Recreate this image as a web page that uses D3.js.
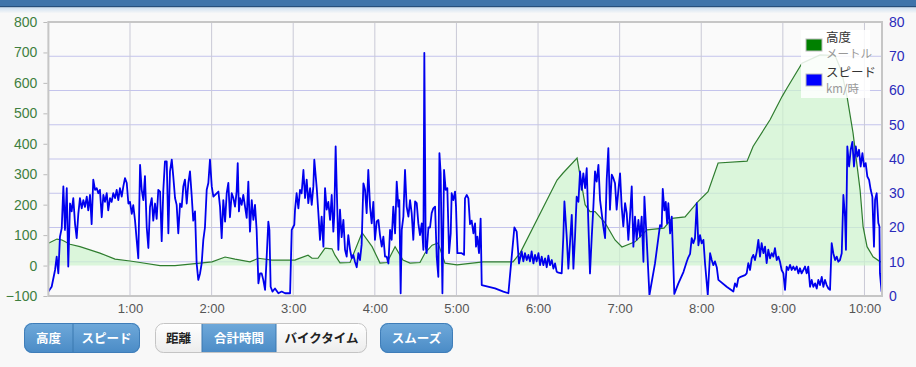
<!DOCTYPE html>
<html>
<head>
<meta charset="utf-8">
<script src="https://cdn.jsdelivr.net/npm/d3@7"></script>
<style>
  body { margin: 0; background: #f8f8f8; }
  svg { display: block; font-family: "Liberation Sans", Arial, sans-serif; }
  .jp { font-family: "Noto Sans CJK JP", sans-serif; }
</style>
</head>
<body>
<script>
// elapsed minutes -> elevation (m)
var elevation = [
  [0, 73], [6.3, 87], [10, 84], [15.9, 70], [23.2, 62], [37.9, 41], [49, 21], [60, 15],
  [67.4, 10], [82.1, 0], [93.1, 0], [111.5, 8], [120.3, 12], [129.9, 28], [137.2, 21],
  [148.2, 12], [154.4, 24], [164.4, 18], [181.3, 18], [183.5, 22], [190.9, 34], [193.8, 24],
  [198.2, 24], [203.4, 57], [208.5, 55], [210.7, 34], [214.4, 9], [221.8, 10], [230.6, 108],
  [238, 62], [243.8, 8], [249, 10], [254.9, 62], [260.7, 18], [265.9, 8], [273.2, 10],
  [276.9, 41], [282.1, 67], [286.5, 74], [291.6, 8], [300.4, 2], [319.6, 12], [341.6, 12],
  [346.8, 41], [374, 281], [378.4, 304], [388.7, 353], [394.6, 200], [398.2, 177],
  [401.9, 177], [409.3, 140], [416.6, 84], [421.7, 61], [431.3, 78], [440.1, 117],
  [452.6, 123], [458.5, 155], [468.1, 160], [477.6, 210], [485, 243], [492.4, 337],
  [513.7, 343], [518.1, 391], [530.6, 479], [539.4, 555], [543.1, 583], [554.1, 665],
  [567.4, 692], [578.4, 690], [583, 640], [587.2, 555], [591.6, 436], [596.8, 248],
  [599, 128], [601.9, 62], [606.3, 29], [611.4, 13], [612.9, 12]
];

// elapsed minutes -> speed (km/h)
var speed = [
  [0, 1.3], [2.4, 2.7], [4.9, 7.6], [6.1, 11.5], [7.3, 6.6], [8.5, 17.3], [9.8, 19.8],
  [11, 32], [12.2, 19.3], [13.5, 31.5], [14.6, 8.6], [15.9, 27], [17.1, 24.7], [18.3, 28.6],
  [19.6, 21], [20.8, 16.9], [22, 24], [23.2, 28.6], [24.5, 25.6], [25.7, 28], [26.9, 26],
  [28.2, 29], [29.3, 25], [30.6, 29.5], [31.8, 21], [33, 34], [34.3, 31], [35.5, 31.5],
  [36.7, 30], [37.9, 31], [39.2, 23], [40.4, 29.5], [41.6, 27.5], [42.9, 30], [44, 25],
  [45.3, 28.6], [46.5, 27.5], [47.7, 30], [49, 28.6], [50.2, 31], [51.4, 28], [52.6, 31.5],
  [53.9, 29], [55.1, 32], [56.3, 34.4], [57.6, 33], [58.8, 27], [60, 27.5], [61.3, 24],
  [62.4, 26.5], [63.7, 22], [64.9, 16.4], [66.1, 11], [67.4, 38.3], [68.6, 31], [69.8, 28],
  [71, 35], [72.3, 20], [73.5, 14], [74.7, 26], [76, 28.6], [77.1, 22], [78.4, 27],
  [79.6, 22.5], [80.8, 31], [82.1, 30.5], [83.3, 16], [84.5, 31], [85.7, 39.3], [87, 39.3],
  [88.2, 18.3], [89.4, 36.4], [90.7, 39.8], [91.8, 35], [93.1, 28.6], [94.3, 26.6],
  [95.5, 18.3], [96.8, 27], [98, 26], [99.2, 32], [100.4, 34], [101.7, 27], [102.9, 33],
  [104.1, 36.4], [105.4, 29], [106.5, 22], [107.8, 24.7], [109, 9.5], [110.2, 4.7],
  [111.5, 6.6], [112.7, 9.5], [113.9, 16.4], [115.1, 20], [116.4, 31], [117.6, 33],
  [118.8, 39.8], [120.1, 32], [121.3, 29], [125, 30.5], [126.2, 26], [127.4, 16.9],
  [128.6, 28], [129.9, 21.7], [131.1, 30], [132.3, 33], [133.5, 23], [134.8, 30], [136, 28.6],
  [137.2, 26.1], [138.4, 30.5], [139.2, 38.8], [140.1, 24.7], [140.9, 28.6], [142.1, 26.6],
  [143.3, 29.5], [144.6, 26], [145.8, 22.8], [147, 33.4], [148.2, 18.8], [149.5, 28],
  [150.7, 22.2], [151.9, 26.6], [153.1, 19.3], [154.4, 3.7], [155.6, 6.6], [156.8, 6.6],
  [158, 4.7], [159.3, 1.8], [160.5, 11.5], [161.7, 21.7], [162.5, 19.3], [163.4, 2.7],
  [164.7, 1.3], [166.6, 2.2], [169.1, 0.8], [171.5, 1.3], [174, 0.8], [177.7, 0.8],
  [178.9, 19.3], [180.8, 20.8], [181.3, 25], [182.5, 30], [183.8, 25.6], [185, 31], [186.2, 30],
  [187.5, 36.8], [188.7, 28.6], [189.9, 34], [191.1, 27.1], [192.4, 31.5], [193.6, 26.6],
  [194.8, 32], [195.5, 39.8], [197.3, 31.5], [198.5, 24.2], [199.7, 16.4], [200.9, 23.2],
  [202.2, 14.4], [203.4, 31.5], [204.6, 25.2], [205.8, 27.5], [207.1, 22.2], [208.3, 29.5],
  [209.5, 18.8], [210.2, 23.7], [211.2, 43.7], [212, 31.5], [213.2, 13.5], [214.4, 25.2],
  [215.6, 17.2], [216.9, 22.2], [218.1, 13.5], [219.3, 11.5], [220.5, 17.8], [221.8, 13.5],
  [223, 11], [224.2, 12], [225.4, 10], [226.7, 8.4], [227.9, 12.5], [229.1, 10.5], [230.3, 15],
  [231.6, 32.9], [232.8, 31], [234, 24.2], [235.2, 36.8], [236.5, 26.1], [237.7, 21.2],
  [238.9, 27.5], [240.1, 16.4], [241.4, 21.8], [242.6, 22.2], [243.8, 17.8], [245.1, 14.4],
  [246.3, 17.3], [247.5, 11.5], [248.7, 11.5], [250, 9.5], [251.2, 19.3], [252.4, 16.4],
  [253.6, 26.1], [254.9, 18.3], [256.1, 33.4], [257.3, 26.1], [258, 28], [259, 0.8],
  [259.8, 19.3], [261, 23.2], [262.2, 36.8], [263.4, 26.1], [264.7, 23.2], [265.9, 28],
  [267.1, 24.2], [268.3, 16.4], [269.6, 27.6], [270.8, 27.1], [272, 21.2], [273.2, 17.8],
  [274.5, 21.2], [275.7, 13.5], [276.4, 71], [277.4, 14.4], [278.1, 12.5], [279.4, 20],
  [280.6, 20], [281.8, 24.2], [283, 25.6], [284.3, 26.1], [285.5, 11.5], [286.7, 5.6],
  [287.5, 41.7], [288.4, 35.8], [289.7, 0.8], [290.9, 36.8], [292.1, 31], [293.3, 31.5],
  [294.6, 12.5], [295.8, 18.3], [296.5, 30], [297.7, 28], [299, 30.5], [299.7, 26.1],
  [300.7, 12.5], [303.9, 12.5], [305.6, 12], [306.3, 28.5], [307.6, 29.5], [308.8, 28.5],
  [310, 21], [311.2, 22], [312.5, 18.3], [313.7, 21.2], [314.4, 14.4], [315.4, 17.3],
  [316.6, 12.5], [317.8, 22.6], [318.6, 3.2], [328.4, 2.2], [334.5, 1.3], [338.2, 0.8],
  [342.6, 20], [344.3, 18.8], [346, 9.5], [348, 13], [349.2, 10.1], [350.4, 12.5],
  [351.7, 10.5], [352.9, 12], [354.1, 10.1], [355.3, 13], [356.6, 9.5], [357.8, 12],
  [359, 10.1], [360.3, 12.5], [361.5, 9], [362.7, 11.5], [363.9, 9], [365.2, 11], [366.4, 8.4],
  [367.6, 11.8], [368.8, 9], [370.1, 10.5], [371.3, 8], [372.5, 9.5], [373.7, 7.1],
  [375, 6.8], [377.4, 6.6], [378.6, 17.3], [379.4, 27.6], [381.1, 17.3], [382.3, 8],
  [383.5, 15.4], [384.8, 23.7], [386, 8], [387.2, 17.3], [388.4, 29], [389.7, 27.5],
  [390.9, 36.4], [392.1, 31], [393.3, 35.8], [394.6, 31.5], [395.8, 37.3], [397, 21.2],
  [398.2, 6.6], [399.5, 17.3], [400.7, 26.1], [401.9, 36.4], [403.1, 33.4], [404.4, 38.3],
  [405.6, 28], [406.8, 24.2], [408, 20.3], [409.3, 16.9], [410.5, 34], [411.7, 43.2],
  [412.9, 25.2], [414.2, 35.4], [415.4, 34.4], [416.6, 32.9], [417.8, 25.2], [419.1, 31],
  [420.3, 35.8], [421.5, 26.1], [422.7, 20.3], [424, 27.1], [425.2, 24.2], [426.4, 16.4],
  [427.6, 23.2], [428.9, 32], [430.1, 14.4], [431.3, 23.2], [432.5, 16.4], [433.8, 22.2],
  [435, 17.3], [436.2, 23.2], [437.5, 10], [438.2, 29], [439.9, 16.4], [441.9, 0.3],
  [446, 9.5], [449.7, 20.7], [450.9, 20.2], [451.7, 31.3], [452.9, 25], [453.9, 27.5],
  [454.9, 21.2], [455.8, 27.1], [457.1, 18.3], [458.3, 23.2], [460.2, 0.6], [463.2, 3.7],
  [466.9, 7], [469.3, 10], [470.5, 11.3], [471.8, 12.3], [473, 16.9], [474.2, 15.4],
  [475.4, 16.9], [476.7, 27.1], [477.9, 14.8], [479.1, 17.8], [480.3, 15.4], [481.6, 16.4],
  [482.8, 9.5], [484.8, 0.3], [486.5, 12.5], [487.7, 10.5], [488.9, 9], [490.1, 10.1],
  [491.4, 8.4], [492.6, 4.7], [498.7, 2.7], [503.6, 1.3], [504.8, 3.7], [506.1, 2.7],
  [507.3, 5.2], [508.5, 5.5], [512.2, 6.1], [513.4, 6.6], [514.6, 9.6], [515.9, 7.6],
  [517.1, 11], [518.3, 12], [519.5, 10.5], [520.8, 12.9], [522, 16.4], [523.2, 11.5],
  [524.4, 15.4], [525.7, 12.5], [526.9, 14.4], [528.1, 9.6], [529.3, 13.5], [530.6, 11],
  [531.8, 12.5], [533, 11.5], [534.2, 14], [535.5, 10.5], [536.7, 11.5], [537.9, 10],
  [539.1, 7.6], [540.4, 6.6], [541.6, 1.8], [542.8, 8.6], [544, 7.6], [545.3, 9.1],
  [546.5, 7.6], [547.7, 8.6], [548.9, 7.6], [550.2, 8.6], [551.4, 6.6], [552.6, 8.1],
  [553.8, 6.6], [555.1, 7.6], [556.3, 8.6], [557.5, 6.6], [558.7, 8.6], [560, 2.7],
  [561.2, 4.7], [562.4, 2.7], [563.7, 3.7], [564.9, 2.2], [566.1, 4.7], [567.3, 3.2],
  [568.6, 5.6], [569.8, 2.7], [571, 4.7], [572.2, 3.2], [573.5, 2.2], [574.7, 1.8],
  [575.9, 15.4], [577.1, 12.5], [578.4, 10.5], [579.6, 11.5], [580.8, 10], [582, 10.5],
  [583.3, 12.5], [584.5, 29.5], [585.7, 23.2], [586.4, 13.5], [587.4, 43.7], [588.7, 37.8],
  [589.9, 42.7], [591.1, 45], [592.3, 37.8], [593.6, 43.7], [594.8, 40.7], [596, 42.7],
  [597.2, 37.8], [598.5, 41.7], [599.7, 37.8], [600.9, 38.8], [602.1, 34.9], [603.4, 33.9],
  [604.6, 31], [605.8, 29], [607, 14.4], [607.8, 28.1], [609, 30], [610.2, 21.3],
  [611, 20.3], [611.4, 6.6], [612.6, 1.3]
];

var hourTicks = [60, 120, 180, 240, 300, 360, 420, 480, 540, 600];
var elevTicks = [-100, 0, 100, 200, 300, 400, 500, 600, 700, 800];
var speedTicks = [0, 10, 20, 30, 40, 50, 60, 70, 80];

var W = 916, H = 367;
var plotLeft = 48.4, plotRight = 882, plotTop = 22, plotBottom = 296;

var svg = d3.select('body').append('svg')
  .attr('width', W)
  .attr('height', H);

var defs = svg.append('defs');
var hg = defs.append('linearGradient').attr('id', 'hdr').attr('x1', 0).attr('y1', 0).attr('x2', 0).attr('y2', 1);
hg.append('stop').attr('offset', 0).attr('stop-color', '#cfe0f0');
hg.append('stop').attr('offset', 1).attr('stop-color', '#f8f8f8');
var bg = defs.append('linearGradient').attr('id', 'btnBlue').attr('x1', 0).attr('y1', 0).attr('x2', 0).attr('y2', 1);
bg.append('stop').attr('offset', 0).attr('stop-color', '#6fa9da');
bg.append('stop').attr('offset', 1).attr('stop-color', '#4a8bc6');
var wg = defs.append('linearGradient').attr('id', 'btnWhite').attr('x1', 0).attr('y1', 0).attr('x2', 0).attr('y2', 1);
wg.append('stop').attr('offset', 0).attr('stop-color', '#ffffff');
wg.append('stop').attr('offset', 1).attr('stop-color', '#ececec');

// header strip
svg.append('rect').attr('x', 0).attr('y', 0).attr('width', W).attr('height', 6).attr('fill', '#3f74aa');
svg.append('rect').attr('x', 0).attr('y', 6).attr('width', W).attr('height', 1.5).attr('fill', '#264f7c');
svg.append('rect').attr('x', 0).attr('y', 7.5).attr('width', W).attr('height', 6).attr('fill', 'url(#hdr)');

var x = d3.scaleLinear().domain([0, 612.9]).range([plotLeft, plotRight]);
var yElev = d3.scaleLinear().domain([-100, 800]).range([plotBottom, plotTop]);
var ySpeed = d3.scaleLinear().domain([0, 80]).range([plotBottom, plotTop]);

svg.append('rect')
  .attr('x', plotLeft).attr('y', plotTop)
  .attr('width', plotRight - plotLeft).attr('height', plotBottom - plotTop)
  .attr('fill', '#fafafa');

// grid
svg.append('g').selectAll('line')
  .data(speedTicks.slice(1, -1))
  .enter().append('line')
  .attr('x1', plotLeft).attr('x2', plotRight)
  .attr('y1', function(d) { return ySpeed(d); })
  .attr('y2', function(d) { return ySpeed(d); })
  .attr('stroke', '#c4c4ec').attr('stroke-width', 1);

svg.append('g').selectAll('line')
  .data(hourTicks)
  .enter().append('line')
  .attr('y1', plotTop).attr('y2', plotBottom)
  .attr('x1', function(d) { return x(d); })
  .attr('x2', function(d) { return x(d); })
  .attr('stroke', '#c9c9d6').attr('stroke-width', 1);

// elevation area
var area = d3.area()
  .x(function(d) { return x(d[0]); })
  .y0(yElev(0))
  .y1(function(d) { return yElev(d[1]); });

svg.append('path')
  .datum(elevation)
  .attr('d', area)
  .attr('fill', '#cdf3cd')
  .attr('fill-opacity', 0.7);

svg.append('path')
  .datum(elevation)
  .attr('d', d3.line().x(function(d) { return x(d[0]); }).y(function(d) { return yElev(d[1]); }))
  .attr('fill', 'none')
  .attr('stroke', '#2f7d2f')
  .attr('stroke-width', 1.2);

// speed line
svg.append('path')
  .datum(speed)
  .attr('d', d3.line().x(function(d) { return x(d[0]); }).y(function(d) { return ySpeed(d[1]); }))
  .attr('fill', 'none')
  .attr('stroke', '#0000ee')
  .attr('stroke-width', 1.8)
  .attr('stroke-linejoin', 'round');

// frame
svg.append('rect')
  .attr('x', plotLeft).attr('y', plotTop)
  .attr('width', plotRight - plotLeft).attr('height', plotBottom - plotTop)
  .attr('fill', 'none')
  .attr('stroke', '#c6c6c6').attr('stroke-width', 2);

// axes
var leftAxis = svg.append('g')
  .attr('transform', 'translate(' + (plotLeft - 1) + ',0)')
  .call(d3.axisLeft(yElev).tickValues(elevTicks).tickSize(4).tickPadding(6));
leftAxis.select('.domain').remove();
leftAxis.selectAll('line').attr('stroke', '#bbb');
leftAxis.selectAll('text').attr('fill', '#3f7f3f').style('font-size', '14px').style('font-family', '"Liberation Sans", Arial, sans-serif');

var rightAxis = svg.append('g')
  .attr('transform', 'translate(' + (plotRight + 1) + ',0)')
  .call(d3.axisRight(ySpeed).tickValues(speedTicks).tickSize(0).tickPadding(6));
rightAxis.select('.domain').remove();
rightAxis.selectAll('text').attr('fill', '#2b2bbb').style('font-size', '14px').style('font-family', '"Liberation Sans", Arial, sans-serif');

var xAxis = svg.append('g')
  .attr('transform', 'translate(0,' + plotBottom + ')')
  .call(d3.axisBottom(x).tickValues(hourTicks).tickSize(0).tickPadding(8)
    .tickFormat(function(d) { return (d / 60) + ':00'; }));
xAxis.select('.domain').remove();
xAxis.selectAll('text').attr('fill', '#555').style('font-size', '13px').style('font-family', '"Liberation Sans", Arial, sans-serif');

// legend
var legend = svg.append('g').attr('class', 'jp');
legend.append('rect').attr('x', 801).attr('y', 30).attr('width', 69).attr('height', 68)
  .attr('fill', '#fff').attr('fill-opacity', 0.85);
var legendItems = [
  { name: '高度', unit: 'メートル', color: '#008000', y: 39 },
  { name: 'スピード', unit: 'km/時', color: '#0000ff', y: 74 }
];
legendItems.forEach(function(d) {
  legend.append('text').attr('x', 826).attr('y', d.y + 3).text(d.name)
    .attr('fill', '#333').style('font-size', '12.5px');
  legend.append('text').attr('x', 826).attr('y', d.y + 19).text(d.unit)
    .attr('fill', '#999').style('font-size', '11.5px');
  legend.append('rect').attr('x', 806).attr('y', d.y).attr('width', 16).attr('height', 12)
    .attr('fill', d.color).attr('stroke', '#bbb').attr('stroke-width', 1);
});

// buttons
var buttonGroups = [
  { x: 24, w: 116, items: [['高度', 49, true], ['スピード', 67, true]] },
  { x: 155, w: 212, items: [['距離', 47, false], ['合計時間', 74, true], ['バイクタイム', 91, false]] },
  { x: 380, w: 73, items: [['スムーズ', 73, true]] }
];
buttonGroups.forEach(function(g, i) {
  var clip = defs.append('clipPath').attr('id', 'bclip' + i);
  clip.append('rect').attr('x', g.x).attr('y', 323).attr('width', g.w).attr('height', 30).attr('rx', 8);
  var grp = svg.append('g').attr('class', 'jp');
  var inner = grp.append('g').attr('clip-path', 'url(#bclip' + i + ')');
  var cx = g.x;
  g.items.forEach(function(it, j) {
    inner.append('rect').attr('x', cx).attr('y', 323).attr('width', it[1]).attr('height', 30)
      .attr('fill', it[2] ? 'url(#btnBlue)' : 'url(#btnWhite)');
    if (j > 0) {
      inner.append('line').attr('x1', cx).attr('x2', cx).attr('y1', 323).attr('y2', 353)
        .attr('stroke', it[2] || g.items[j - 1][2] ? '#3a78b0' : '#ccc');
    }
    grp.append('text').attr('x', cx + it[1] / 2).attr('y', 343)
      .attr('text-anchor', 'middle')
      .attr('fill', it[2] ? '#fff' : '#222')
      .style('font-size', '12.5px').style('font-weight', 'bold')
      .text(it[0]);
    cx += it[1];
  });
  grp.append('rect').attr('x', g.x + 0.5).attr('y', 323.5).attr('width', g.w - 1).attr('height', 29).attr('rx', 8)
    .attr('fill', 'none').attr('stroke', g.items.length === 3 ? '#c4c4c4' : '#3f7db8');
});
</script>
</body>
</html>
